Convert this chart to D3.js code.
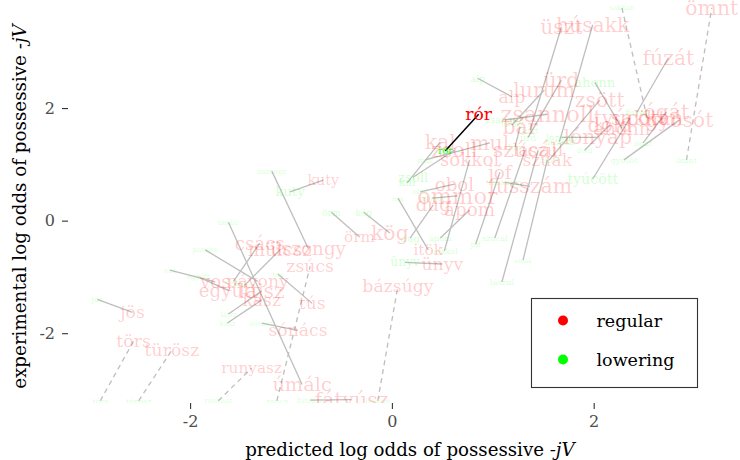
<!DOCTYPE html>
<html>
<head>
<meta charset="utf-8">
<script src="https://cdn.jsdelivr.net/npm/d3@7"></script>
<style>
  body { margin: 0; background: #fff; }
  svg { display: block; font-family: "DejaVu Serif", serif; }
</style>
</head>
<body>
<div id="chart"></div>
<script>
// stems, with the regular (red) and lowering (green) condition of each
const stems = ["jös", "törs", "türösz", "runyasz", "úmálc", "zsúcs", "fátyúsz", "bázsúgy", "tús", "sónács",
  "kász", "lajsz", "együtt", "vos", "pávony", "csács", "mülcsz", "üszongy", "kuty", "örm",
  "kög", "ünyv", "itök", "alp", "rór", "kal", "zsoll", "mul", "sokkol", "szúcál",
  "obol", "jóf", "ommor", "dug", "ápom", "fusszám", "bár", "zsannoll", "lurum", "ürd",
  "zsött", "ahonn", "tyúcött", "lónyap", "fúzát", "ógát", "gyósót", "ömnt", "húsakk", "üszt",
  "sakkan", "dold", "lászul", "szúak"];

const regX = [-2.57, -2.56, -2.18, -1.39, -0.89, -0.81, -0.40, 0.06, -0.79, -0.93,
  -1.29, -1.29, -1.62, -1.75, -1.33, -1.31, -1.11, -0.83, -0.68, -0.32,
  -0.02, 0.50, 0.36, 1.19, 0.86, 0.48, 0.62, 0.97, 0.77, 1.32,
  0.62, 1.07, 0.65, 0.41, 0.77, 1.37, 1.27, 1.54, 1.51, 1.68,
  2.06, 2.28, 2.36, 2.04, 2.74, 2.72, 2.85, 3.17, 1.99, 1.68,
  2.53, 2.16, 1.45, 1.54];
const regY = [-1.63, -2.14, -2.30, -2.62, -2.91, -0.81, -3.18, -1.16, -1.47, -1.95,
  -1.41, -1.25, -1.24, -1.09, -1.08, -0.40, -0.52, -0.49, 0.72, -0.29,
  -0.22, -0.77, -0.52, 2.20, 1.89, 1.40, 1.25, 1.38, 1.08, 1.25,
  0.65, 0.86, 0.44, 0.28, 0.19, 0.61, 1.66, 1.89, 2.32, 2.50,
  2.14, 1.64, 1.82, 1.48, 2.89, 1.93, 1.79, 4.30, 3.48, 3.44,
  1.82, 1.70, 1.25, 1.08];
const regN = [70, 70, 70, 59, 82, 70, 88, 70, 70, 70,
  70, 88, 76, 76, 70, 76, 76, 76, 53, 59,
  88, 70, 59, 70, 70, 88, 88, 88, 76, 88,
  76, 76, 100, 76, 76, 88, 88, 100, 88, 88,
  88, 76, 88, 88, 88, 88, 88, 88, 88, 88,
  88, 88, 70, 70];

const lowX = [-2.92, -2.89, -2.51, -1.72, -1.62, -1.14, -0.81, -0.14, -1.13, -1.29,
  -1.63, -1.62, -1.92, -2.20, -1.85, -1.57, -1.46, -1.19, -1.01, -0.60,
  -0.28, 0.13, 0.06, 0.85, 0.53, 0.15, 0.21, 0.33, 0.52, 1.02,
  0.28, 0.83, 0.40, 0.18, 0.48, 1.12, 1.22, 1.12, 1.19, 1.35,
  1.56, 2.01, 1.99, 1.68, 2.43, 2.49, 2.30, 2.92, 1.66, 1.37,
  2.28, 1.91, 1.09, 1.30];
const lowY = [-1.40, -3.60, -3.70, -3.50, -0.03, -3.60, -3.19, -3.80, -0.95, -1.82,
  -1.82, -1.66, -1.00, -0.88, -0.52, -1.08, -1.15, 0.88, 0.51, 0.15,
  0.15, -0.74, 0.40, 2.53, 1.24, 0.67, 0.77, 1.08, -0.54, -0.31,
  0.51, -0.42, 0.40, -0.31, -0.31, 0.68, 1.31, 1.79, 1.70, 1.48,
  1.08, 2.46, 0.74, 1.48, 1.93, 1.38, 1.08, 1.08, 1.40, 1.61,
  4.20, 1.25, -1.09, -0.70];
const lowN = [18, 18, 18, 12, 12, 18, 12, 6, 12, 12,
  12, 12, 12, 12, 12, 6, 6, 12, 47, 24,
  24, 41, 6, 24, 24, 35, 47, 18, 18, 18,
  12, 18, 12, 29, 18, 18, 18, 24, 12, 24,
  18, 47, 53, 24, 24, 18, 18, 18, 18, 18,
  12, 12, 18, 6];

const highlight = "rór";
const yLimits = [-3.2, 3.78];
const xTicks = [-2, 0, 2];
const yTicks = [-2, 0, 2];
const legendItems = [{label: "regular", color: "#ff0000"}, {label: "lowering", color: "#00ff00"}];

const width = 740, height = 460;
const margin = {left: 68, right: 0, top: 0, bottom: 57};

const svg = d3.select("#chart").append("svg")
  .attr("width", width)
  .attr("height", height);

const x = d3.scaleLinear().domain([-3.21, 3.45]).range([margin.left, width - margin.right]);
const y = d3.scaleLinear().domain([-3.24, 3.92]).range([height - margin.bottom, margin.top]);
const size = d3.scaleLinear().domain([0, 100]).range([5, 22.5]);
const squish = v => Math.max(yLimits[0], Math.min(yLimits[1], v));
const outside = v => v < yLimits[0] || v > yLimits[1];

const records = stems.map((s, i) => ({
  stem: s,
  reg: {x: regX[i], y: regY[i], n: regN[i]},
  low: {x: lowX[i], y: lowY[i], n: lowN[i]}
}));

svg.append("clipPath").attr("id", "panel")
  .append("rect")
  .attr("x", margin.left).attr("y", margin.top)
  .attr("width", width - margin.left - margin.right)
  .attr("height", height - margin.top - margin.bottom);

const panel = svg.append("g").attr("clip-path", "url(#panel)");

// connecting segments
panel.append("g").selectAll("line")
  .data(records.filter(d => d.stem !== highlight))
  .join("line")
  .attr("x1", d => x(d.low.x))
  .attr("y1", d => y(squish(d.low.y)))
  .attr("x2", d => x(d.reg.x))
  .attr("y2", d => y(squish(d.reg.y)))
  .attr("stroke", "#bebebe")
  .attr("stroke-width", 1.3)
  .attr("stroke-dasharray", d => (outside(d.low.y) || outside(d.reg.y)) ? "5,4" : null);

// faded labels
const faded = records.filter(d => d.stem !== highlight);
panel.append("g").selectAll("text")
  .data(faded)
  .join("text")
  .attr("x", d => x(d.low.x))
  .attr("y", d => y(squish(d.low.y)))
  .attr("text-anchor", "middle")
  .attr("dominant-baseline", "central")
  .attr("font-size", d => size(d.low.n))
  .attr("fill", "#00ff00")
  .attr("fill-opacity", 0.2)
  .text(d => d.stem);

panel.append("g").selectAll("text")
  .data(faded)
  .join("text")
  .attr("x", d => x(d.reg.x))
  .attr("y", d => y(squish(d.reg.y)))
  .attr("text-anchor", "middle")
  .attr("dominant-baseline", "central")
  .attr("font-size", d => size(d.reg.n))
  .attr("fill", "#ff0000")
  .attr("fill-opacity", 0.2)
  .text(d => d.stem);

// highlighted stem
const hl = records.filter(d => d.stem === highlight);
const hg = panel.append("g");
hg.selectAll("line").data(hl).join("line")
  .attr("x1", d => x(d.low.x))
  .attr("y1", d => y(squish(d.low.y)))
  .attr("x2", d => x(d.reg.x))
  .attr("y2", d => y(squish(d.reg.y)))
  .attr("stroke", "#000")
  .attr("stroke-width", 1.5);
hg.selectAll("text.low").data(hl).join("text")
  .attr("class", "low")
  .attr("x", d => x(d.low.x))
  .attr("y", d => y(squish(d.low.y)))
  .attr("text-anchor", "middle")
  .attr("dominant-baseline", "central")
  .attr("font-size", d => size(d.low.n))
  .attr("fill", "#00ff00")
  .text(d => d.stem);
hg.selectAll("text.reg").data(hl).join("text")
  .attr("class", "reg")
  .attr("x", d => x(d.reg.x))
  .attr("y", d => y(squish(d.reg.y)))
  .attr("text-anchor", "middle")
  .attr("dominant-baseline", "central")
  .attr("font-size", d => size(d.reg.n))
  .attr("fill", "#ff0000")
  .text(d => d.stem);

// axes
const fmt = d => String(d);   // plain hyphen for negatives, as in the original
const xAxis = svg.append("g")
  .attr("transform", "translate(0," + (height - margin.bottom) + ")")
  .call(d3.axisBottom(x).tickValues(xTicks).tickSize(6).tickPadding(7).tickFormat(fmt));
const yAxis = svg.append("g")
  .attr("transform", "translate(" + margin.left + ",0)")
  .call(d3.axisLeft(y).tickValues(yTicks).tickSize(6).tickPadding(7).tickFormat(fmt));
[xAxis, yAxis].forEach(a => {
  a.select(".domain").remove();
  a.selectAll(".tick line").attr("stroke", "#333").attr("stroke-width", 1.1);
  a.selectAll(".tick text")
    .attr("fill", "#4d4d4d")
    .attr("font-size", 16)
    .attr("font-family", "DejaVu Serif, serif");
});

const xTitle = svg.append("text")
  .attr("x", (x(-2) + x(2)) / 2 + 18)
  .attr("y", 456)
  .attr("text-anchor", "middle")
  .attr("font-size", 18.2)
  .attr("fill", "#000");
xTitle.append("tspan").text("predicted log odds of possessive ");
xTitle.append("tspan").attr("font-style", "italic").text("-jV");

const yTitle = svg.append("text")
  .attr("transform", "translate(26," + ((margin.top + height - margin.bottom) / 2 + 5) + ") rotate(-90)")
  .attr("text-anchor", "middle")
  .attr("font-size", 18.3)
  .attr("fill", "#000");
yTitle.append("tspan").text("experimental log odds of possessive ");
yTitle.append("tspan").attr("font-style", "italic").text("-jV");

// legend
const legend = svg.append("g").attr("transform", "translate(531.5,298.5)");
legend.append("rect")
  .attr("width", 166)
  .attr("height", 89)
  .attr("fill", "#fff")
  .attr("stroke", "#333")
  .attr("stroke-width", 1.1);
const li = legend.selectAll("g.item").data(legendItems).join("g")
  .attr("class", "item")
  .attr("transform", (d, i) => "translate(0," + (22 + i * 39) + ")");
li.append("circle").attr("cx", 31.5).attr("r", 5).attr("fill", d => d.color);
li.append("text")
  .attr("x", 65)
  .attr("dominant-baseline", "central")
  .attr("font-size", 17.5)
  .attr("fill", "#000")
  .text(d => d.label);
</script>
</body>
</html>
